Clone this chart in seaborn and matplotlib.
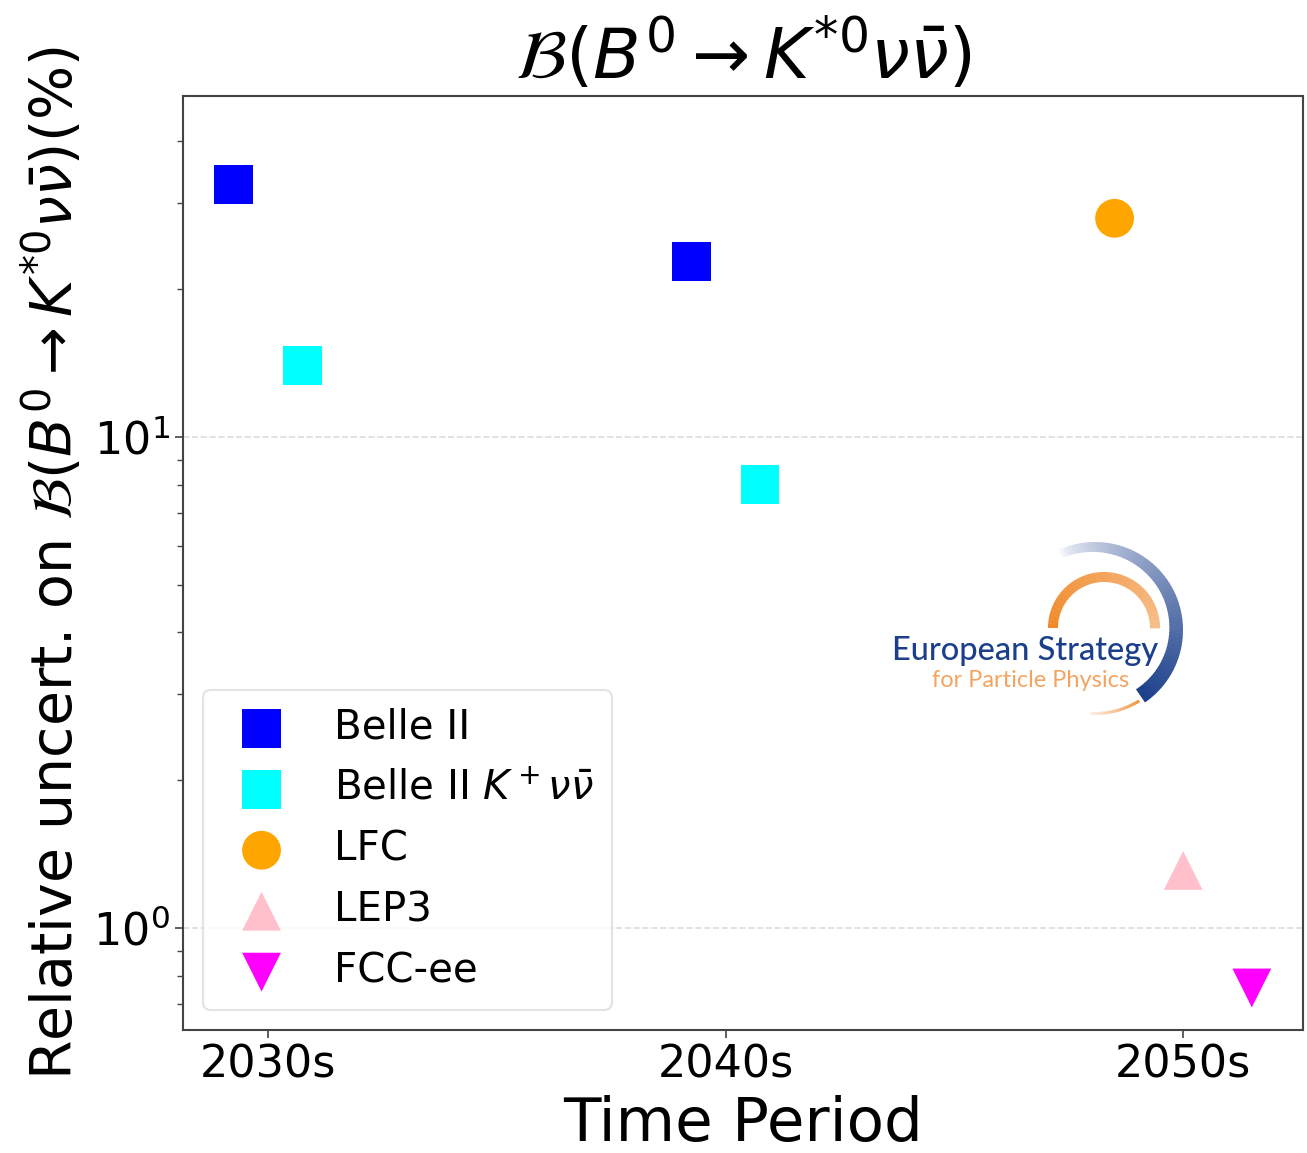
import numpy as np
import pandas as pd
import matplotlib
matplotlib.use("Agg")
import matplotlib.pyplot as plt
from matplotlib.patches import Wedge
from matplotlib.colors import to_rgb
import seaborn as sns

# ---- data ----
periods = ["2030s", "2040s", "2050s"]
belle2 = [32.7, 22.8, np.nan]
belle2_kplus = [14.0, 8.0, np.nan]
lfc = [np.nan, np.nan, 27.9]
lep3 = [np.nan, np.nan, 1.31]
fccee = [np.nan, np.nan, 0.755]

series_names = ["Belle II", r"Belle II $K^+\nu\bar{\nu}$", "LFC", "LEP3", "FCC-ee"]
series_values = [belle2, belle2_kplus, lfc, lep3, fccee]
series_colors = ["blue", "cyan", "orange", "pink", "magenta"]
series_markers = ["s", "s", "o", "^", "v"]
series_offsets = [-0.075, 0.075, -0.15, 0.0, 0.15]

sns.set_style("ticks")
plt.rcParams["font.family"] = ["DejaVu Sans"]
plt.rcParams["mathtext.fontset"] = "dejavusans"
for k in ["text.color", "axes.labelcolor", "xtick.color", "ytick.color"]:
    plt.rcParams[k] = "black"

fig = plt.figure(figsize=(13.07, 11.53), dpi=100)
ax = fig.add_axes([0.140, 0.1067, 0.857, 0.810])

for name, vals, col, mk, off in zip(series_names, series_values, series_colors,
                                    series_markers, series_offsets):
    df = pd.DataFrame({"x": np.arange(len(periods)) + off, "y": vals})
    df = df.dropna()
    sns.scatterplot(data=df, x="x", y="y", ax=ax, color=col, marker=mk,
                    s=780, linewidth=0, edgecolor="none", label=name, zorder=3)

ax.set_yscale("log")
ax.set_ylim(0.62, 49.5)
ax.set_xlim(-0.186, 2.262)
ax.set_xticks(range(len(periods)))
ax.set_xticklabels(periods)
ax.tick_params(axis="both", labelsize=32, length=6, width=1.2, color="#444444")
ax.tick_params(axis="y", which="minor", length=4, width=1.0, color="#444444")
ax.grid(True, axis="y", which="major", linestyle="--", color="#dddddd", linewidth=1.2)
for sp in ax.spines.values():
    sp.set_visible(True)
    sp.set_color("#444444")
    sp.set_linewidth(1.5)

ax.set_xlabel("Time Period", fontsize=44, labelpad=6)
ax.set_ylabel(r"Relative uncert. on $\mathcal{B}(B^0 \rightarrow K^{*0}\nu\bar{\nu})$(%)",
              fontsize=41, labelpad=6)
ax.set_title(r"$\mathcal{B}(B^0 \rightarrow K^{*0}\nu\bar{\nu})$", fontsize=50, pad=12)

leg = ax.legend(loc="lower left", fontsize=29, frameon=True, handletextpad=0.8,
                labelspacing=0.52, borderpad=0.45)
leg.get_frame().set_edgecolor("#dddddd")
leg.get_frame().set_linewidth(1.5)

# ---- logo overlay (pixel coordinates) ----
ov = fig.add_axes([0, 0, 1, 1], zorder=2)
ov.set_xlim(0, 1307)
ov.set_ylim(1153, 0)
ov.axis("off")
ov.patch.set_alpha(0)

white = np.array([1.0, 1.0, 1.0])


def blend(c, t):
    return tuple(white + (np.array(to_rgb(c)) - white) * t)


# orange inner arc with slight gradient (y axis flipped: 180..360 = upper half)
n = 40
for i in range(n):
    a = 180 + (180.0 / n) * i
    ov.add_patch(Wedge((1104, 628), 56, a, a + 180.0 / n + 0.4, width=10,
                       color=blend("#f08a2c", 1.0 - 0.45 * i / n), linewidth=0))
# blue outer arc with gradient, from top going round the right side to the bottom
n = 60
a_start, a_end = 246.0, 415.0
for i in range(n):
    a = a_start + (a_end - a_start) / n * i
    t = i / n
    ov.add_patch(Wedge((1095, 630), 88, a, a + (a_end - a_start) / n + 0.4,
                       width=9 + 7 * t, color=blend("#1b3f8b", 0.05 + 0.95 * t ** 0.7),
                       linewidth=0))
# thin orange tail at bottom
n = 20
for i in range(n):
    a = 58 + (35.0 / n) * i
    ov.add_patch(Wedge((1095, 630), 85, a, a + 35.0 / n + 0.4, width=3,
                       color=blend("#f08a2c", 0.9 - 0.8 * i / n), linewidth=0))

ov.text(1025, 660, "European Strategy", fontsize=23.5, color="#1b3f8b",
        family="Lato", weight="medium", ha="center", va="baseline")
ov.text(1031, 687, "for Particle Physics", fontsize=17, color="#f4a460",
        family="Lato", ha="center", va="baseline")

fig.savefig("out.png", dpi=100)
